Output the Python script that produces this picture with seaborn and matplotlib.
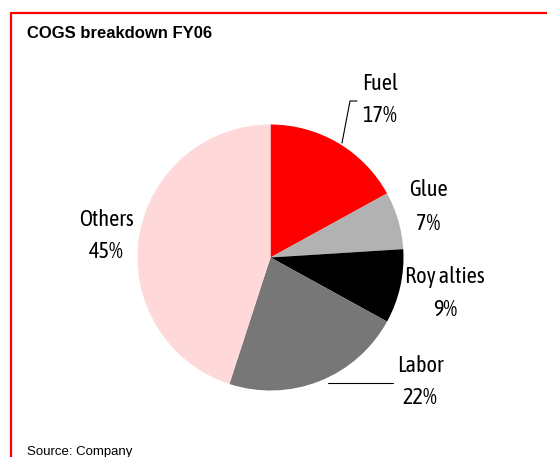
import matplotlib
matplotlib.use("Agg")
import matplotlib.pyplot as plt
import seaborn as sns
from matplotlib.lines import Line2D
from matplotlib import font_manager
from matplotlib.font_manager import FontProperties

sns.set_theme(style="white")
plt.rcParams["font.family"] = ["Liberation Sans", "DejaVu Sans"]

# find a condensed / narrow sans face if one is installed
narrow_path = None
for key in ("LiberationSansNarrow-Regular", "SansNarrow-Regular", "Condensed-Regular",
            "SansCondensed.ttf", "Condensed.ttf", "Narrow", "Condensed"):
    for f in font_manager.fontManager.ttflist:
        fn = f.fname
        if key in fn and "Bold" not in fn and "Italic" not in fn and "Oblique" not in fn:
            narrow_path = fn
            break
    if narrow_path:
        break

if narrow_path:
    label_fp = FontProperties(fname=narrow_path, size=16)
else:
    label_fp = FontProperties(family=["Liberation Sans", "DejaVu Sans"], size=13)

categories = ["Fuel", "Glue", "Roy alties", "Labor", "Others"]
values = [17, 7, 9, 22, 45]
colors = ["#FF0000", "#B2B2B2", "#000000", "#777777", "#FFD9D9"]

W, H = 547, 457
fig = plt.figure(figsize=(W / 100, H / 100), dpi=100)
fig.patch.set_facecolor("white")

cx, cy, r = 270.5, 257.5, 133.0
ax = fig.add_axes([(cx - r) / W, (H - cy - r) / H, 2 * r / W, 2 * r / H])
ax.pie(values, colors=colors, startangle=90, counterclock=False, radius=1.0,
       wedgeprops=dict(linewidth=0, edgecolor="none"))
ax.set_xlim(-1, 1)
ax.set_ylim(-1, 1)
ax.set_aspect("equal")
ax.axis("off")

def to_data(px, py):
    return (px - cx) / r, (cy - py) / r

# (x centre, name line centre y, value line centre y) in pixels
label_pos = [(380, 81, 113), (428, 188, 222), (445, 274, 307), (420, 363, 396), (106, 218, 250)]
for name, val, (px, py1, py2) in zip(categories, values, label_pos):
    x, y1 = to_data(px, py1)
    _, y2 = to_data(px, py2)
    ax.text(x, y1, name, ha="center", va="center_baseline", fontproperties=label_fp,
            color="black", clip_on=False)
    ax.text(x, y2, f"{val}%", ha="center", va="center_baseline", fontproperties=label_fp,
            color="black", clip_on=False)

# leader lines (figure pixel coordinates)
def fig_line(xs, ys):
    fig.add_artist(Line2D([x / W for x in xs], [1 - y / H for y in ys],
                          color="black", linewidth=0.8))

fig_line([342, 350, 357], [143, 101, 101])
fig_line([328, 393], [383, 383])

# red frame
fig.add_artist(Line2D([10.5 / W, 1.0], [1 - 13 / H, 1 - 13 / H], color="#FF0000", linewidth=1.6))
fig.add_artist(Line2D([10.5 / W, 10.5 / W], [1 - 13 / H, 0], color="#FF0000", linewidth=1.6))

fig.text(27 / W, 1 - 33 / H, "COGS breakdown FY06", fontsize=12, fontweight="bold",
         ha="left", va="center", color="black")
fig.text(27 / W, 1 - 452 / H, "Source: Company", fontsize=9.5, ha="left", va="center",
         color="black")

fig.savefig("out.png", dpi=100, facecolor="white")
